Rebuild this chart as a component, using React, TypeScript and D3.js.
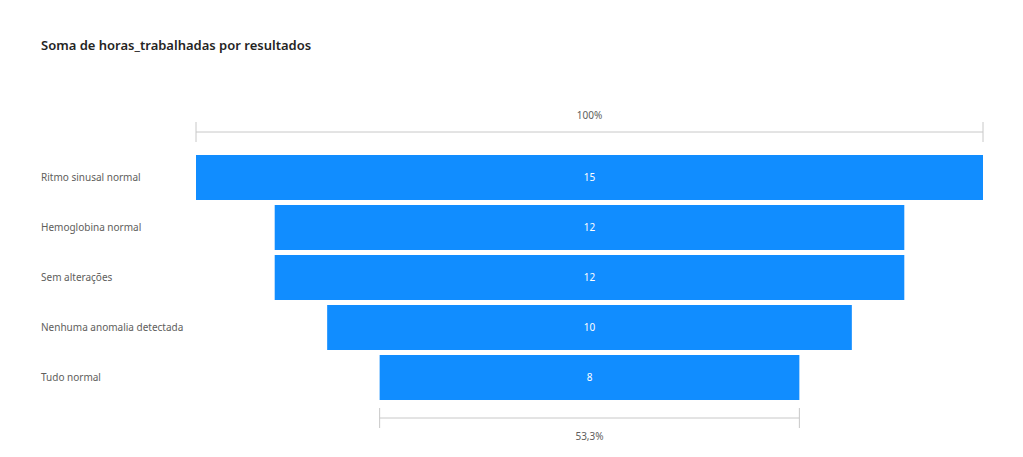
import React from 'react';
import * as d3 from 'd3';

const categories = ['Ritmo sinusal normal', 'Hemoglobina normal', 'Sem alterações', 'Nenhuma anomalia detectada', 'Tudo normal'];
const values = [15, 12, 12, 10, 8];
const topLabel = '100%';
const bottomLabel = '53,3%';

const W = 1023;
const H = 457;
const left = 196;
const right = 983;
const cx = (left + right) / 2;

const App = () => {
  const x = d3.scaleLinear().domain([0, d3.max(values) as number]).range([0, right - left]);
  const y = d3.scaleBand().domain(categories).range([155, 400]).paddingInner(0.1).paddingOuter(0);
  const last = values[values.length - 1];
  const font = '"Noto Sans", "Open Sans", sans-serif';

  const bracket = (x0: number, x1: number, yy: number) => (
    <g stroke="#c8c8c8" strokeWidth={1}>
      <line x1={x0} x2={x1} y1={yy} y2={yy} />
      <line x1={x0} x2={x0} y1={yy - 10} y2={yy + 10} />
      <line x1={x1} x2={x1} y1={yy - 10} y2={yy + 10} />
    </g>
  );

  return (
    <svg width={W} height={H} style={{ position: 'absolute', left: 0, top: 0, background: '#fff' }} fontFamily={font}>
      <text x={41} y={50} fontSize={13} fontWeight={600} fill="#252423">
        Soma de horas_trabalhadas por resultados
      </text>
      {bracket(cx - x(values[0]) / 2, cx + x(values[0]) / 2, 132)}
      <text x={cx} y={119} textAnchor="middle" fontSize={10} fill="#605e5c">{topLabel}</text>
      {categories.map((c, i) => {
        const w = x(values[i]);
        const yy = y(c) as number;
        return (
          <g key={c}>
            <rect x={cx - w / 2} y={yy} width={w} height={y.bandwidth()} fill="#118DFF" />
            <text x={cx} y={yy + y.bandwidth() / 2} dy="0.35em" textAnchor="middle" fontSize={10} fill="#fff">
              {values[i]}
            </text>
            <text x={41} y={yy + y.bandwidth() / 2} dy="0.35em" fontSize={10} fill="#605e5c">{c}</text>
          </g>
        );
      })}
      {bracket(cx - x(last) / 2, cx + x(last) / 2, 418)}
      <text x={cx} y={440} textAnchor="middle" fontSize={10} fill="#605e5c">{bottomLabel}</text>
    </svg>
  );
};

export default App;
